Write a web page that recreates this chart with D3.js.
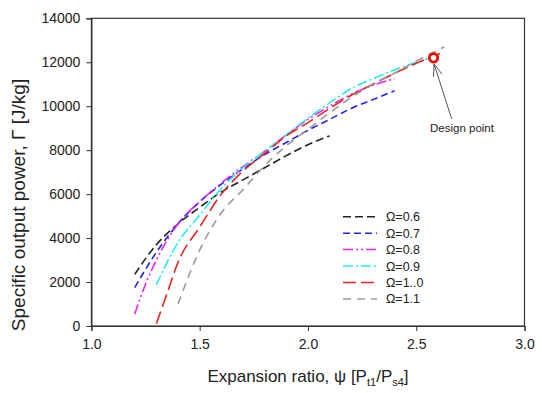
<!DOCTYPE html>
<html><head><meta charset="utf-8">
<script src="https://cdn.jsdelivr.net/npm/d3@7"></script>
<style>
body{margin:0;background:#fff;}
text{font-family:Arial,"Liberation Sans",sans-serif;fill:#222;}
</style></head>
<body><svg id="c" width="542" height="393"></svg>
<script>
const seriesNames = ["Ω=0.6","Ω=0.7","Ω=0.8","Ω=0.9","Ω=1..0","Ω=1.1"];
const x06 = [1.2,1.3,1.4,1.5,1.6,1.7,1.8,1.9,2.0,2.1];
const y06 = [2350,3700,4650,5400,6100,6650,7200,7750,8250,8650];
const x07 = [1.2,1.3,1.4,1.5,1.6,1.7,1.8,1.9,2.0,2.1,2.2,2.3,2.4];
const y07 = [1750,3350,4650,5650,6450,7150,7800,8350,8900,9400,9900,10300,10700];
const x08 = [1.2,1.25,1.3,1.4,1.5,1.6,1.7,1.8,1.9,2.0,2.1,2.2,2.3,2.4];
const y08 = [550,1900,3000,4650,5650,6500,7250,7950,8700,9400,10000,10550,10950,11250];
const x09 = [1.3,1.4,1.5,1.6,1.7,1.8,1.9,2.0,2.1,2.2,2.3,2.4,2.5,2.62];
const y09 = [1880,3800,5050,6250,7200,7950,8700,9450,10150,10800,11250,11650,12000,12350];
const x10 = [1.3,1.35,1.4,1.5,1.6,1.7,1.8,1.9,2.0,2.1,2.2,2.3,2.4,2.5,2.61];
const y10 = [100,1500,2900,4500,6000,7050,7850,8650,9250,9900,10500,11000,11500,11950,12400];
const x11 = [1.4,1.5,1.6,1.7,1.8,1.9,2.0,2.1,2.2,2.3,2.4,2.5,2.63];
const y11 = [1000,3450,5150,6200,7300,8200,8950,9700,10400,11000,11500,12050,12700];
const designPoint = [2.58, 12200];
const xTicks = [1.0,1.5,2.0,2.5,3.0];
const yTicks = [0,2000,4000,6000,8000,10000,12000,14000];

const colors = ["#222222","#2222ee","#ee22ee","#22eeee","#ee2222","#999999"];
const dashes = ["8,4","7,4","10,3,2,3,2,3","10,3,2,3","13,5","8,6"];

const svg = d3.select("#c");
const m = {l:91.4, r:17.5, t:18.3, b:67};
const W = 542, H = 393;
const x = d3.scaleLinear().domain([1,3]).range([m.l, W-m.r]);
const y = d3.scaleLinear().domain([0,14000]).range([H-m.b, m.t]);

const data = [[x06,y06],[x07,y07],[x08,y08],[x09,y09],[x10,y10],[x11,y11]]
  .map(([xs,ys]) => xs.map((v,i)=>[v, ys[i]]));

// frame
svg.append("rect").attr("x",m.l).attr("y",m.t).attr("width",W-m.r-m.l).attr("height",H-m.b-m.t)
  .attr("fill","none").attr("stroke","#333").attr("stroke-width",1.2);

const xa = svg.append("g").attr("transform",`translate(0,${H-m.b})`)
  .call(d3.axisBottom(x).tickValues(xTicks).tickFormat(d3.format(".1f")).tickSize(5).tickPadding(8));
const ya = svg.append("g").attr("transform",`translate(${m.l},0)`)
  .call(d3.axisLeft(y).tickValues(yTicks).tickFormat(d3.format("d")).tickSize(5).tickPadding(6));
[xa,ya].forEach(a=>{
  a.selectAll("path").attr("stroke","#333").attr("stroke-width",1.2);
  a.selectAll("line").attr("stroke","#333");
  a.selectAll("text").attr("font-size",14).attr("fill","#222");
});

const line = d3.line().x(d=>x(d[0])).y(d=>y(d[1])).curve(d3.curveMonotoneX);
data.forEach((s,i)=>{
  svg.append("path").datum(s).attr("d",line).attr("fill","none")
    .attr("stroke",colors[i]).attr("stroke-width",1.6).attr("stroke-dasharray",dashes[i]);
});

// design point
const dpx = x(designPoint[0]), dpy = y(designPoint[1]);
svg.append("circle").attr("cx",dpx).attr("cy",dpy).attr("r",4.2)
  .attr("fill","#fff").attr("stroke","#ff0000").attr("stroke-width",2.8);
// arrow
const ax0 = 451.7, ay0 = 119;
const tipx = dpx+0.5, tipy = dpy+6;
const ang = Math.atan2(tipy-ay0, tipx-ax0);
svg.append("line").attr("x1",ax0).attr("y1",ay0).attr("x2",tipx).attr("y2",tipy)
  .attr("stroke","#555").attr("stroke-width",1);
[0.35,-0.35].forEach(o=>{
  svg.append("line").attr("x1",tipx).attr("y1",tipy)
    .attr("x2",tipx - 13*Math.cos(ang+o)).attr("y2",tipy - 13*Math.sin(ang+o))
    .attr("stroke","#555").attr("stroke-width",1);
});
svg.append("text").attr("x",462).attr("y",132).attr("text-anchor","middle")
  .attr("font-size",11.5).text("Design point");

// legend
const lg = svg.append("g");
seriesNames.forEach((n,i)=>{
  const yy = 216.7 + i*16.45;
  lg.append("line").attr("x1",343).attr("x2",377).attr("y1",yy).attr("y2",yy)
    .attr("stroke",colors[i]).attr("stroke-width",1.5).attr("stroke-dasharray",dashes[i]);
  lg.append("text").attr("x",386).attr("y",yy+4.5).attr("font-size",12.5).text(n);
});

// axis titles
svg.append("text").attr("transform","translate(25,205) rotate(-90)").attr("text-anchor","middle")
  .attr("font-size",19).text("Specific output power, Γ [J/kg]");
const xt = svg.append("text").attr("x",308).attr("y",382).attr("text-anchor","middle").attr("font-size",17);
xt.append("tspan").text("Expansion ratio,  ψ [P");
xt.append("tspan").attr("font-size",11).attr("dy",4).text("t1");
xt.append("tspan").attr("dy",-4).text("/P");
xt.append("tspan").attr("font-size",11).attr("dy",4).text("s4");
xt.append("tspan").attr("dy",-4).text("]");
</script></body></html>
